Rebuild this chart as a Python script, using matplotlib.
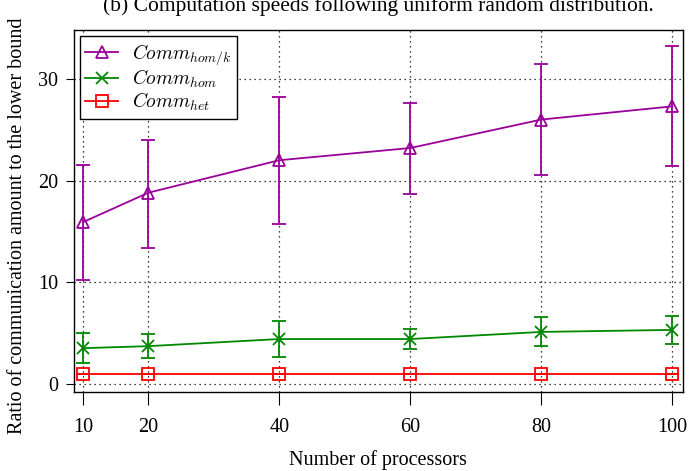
import numpy as np
import matplotlib.pyplot as plt

plt.rcParams.update({
    'font.family': ['Liberation Serif', 'DejaVu Serif'],
    'mathtext.fontset': 'cm',
    'font.size': 14.5,
})

# ── Data ─────────────────────────────────────────────────────────────────────
procs = [10, 20, 40, 60, 80, 100]

homk_mean = [15.9, 18.8, 22.0, 23.2, 26.0, 27.3]
homk_lo   = [10.2, 13.4, 15.7, 18.7, 20.5, 21.4]
homk_hi   = [21.5, 24.0, 28.2, 27.6, 31.5, 33.2]

hom_mean = [3.5, 3.7, 4.4, 4.4, 5.1, 5.3]
hom_lo   = [2.0, 2.5, 2.6, 3.4, 3.7, 3.9]
hom_hi   = [5.0, 4.9, 6.2, 5.4, 6.6, 6.7]

het_mean = [1.0, 1.0, 1.0, 1.0, 1.0, 1.0]
het_lo   = [1.0, 1.0, 1.0, 1.0, 1.0, 1.0]
het_hi   = [1.0, 1.0, 1.0, 1.0, 1.0, 1.0]

x_ticks = [10, 20, 40, 60, 80, 100]
y_ticks = [0, 10, 20, 30]

SERIES = [
    (homk_mean, homk_lo, homk_hi, '#990099', '^', r'$Comm_{hom/k}$'),
    (hom_mean,  hom_lo,  hom_hi,  '#008800', 'x', r'$Comm_{hom}$'),
    (het_mean,  het_lo,  het_hi,  '#ff0000', 's', r'$Comm_{het}$'),
]

fig = plt.figure(figsize=(6.89, 4.71), dpi=100)
ax = fig.add_axes([0.107, 0.168, 0.884, 0.768])

handles = []
for mean, lo, hi, colour, mk, label in SERIES:
    mean = np.array(mean)
    yerr = [mean - np.array(lo), np.array(hi) - mean]
    cont = ax.errorbar(procs, mean, yerr=yerr, color=colour, marker=mk,
                       markersize=9, markerfacecolor='none', markeredgewidth=1.3,
                       linewidth=1.3, elinewidth=1.3, capsize=5, capthick=1.3,
                       label=label)
    handles.append(cont[0])   # line + marker only in the legend

ax.set_xlim(8.6, 101.6)
ax.set_ylim(-0.8, 34.8)
ax.set_xticks(x_ticks)
ax.set_yticks(y_ticks)
ax.grid(True, color='black', linestyle=(0, (1, 3)), linewidth=0.9)
ax.tick_params(axis='x', direction='out', length=9, pad=10, top=False)
ax.tick_params(axis='y', direction='out', length=6, pad=5, right=False)
for sp in ax.spines.values():
    sp.set_linewidth(1.0)

ax.set_xlabel('Number of processors', labelpad=9)
ax.set_ylabel('Ratio of communication amount to the lower bound')
ax.yaxis.set_label_coords(-0.076, 0.46)

leg = ax.legend(handles, [s[5] for s in SERIES], loc='upper left',
                fancybox=False, edgecolor='black', framealpha=1,
                fontsize=14, handlelength=1.7, handletextpad=0.7,
                borderaxespad=0.3, borderpad=0.3, labelspacing=0.05)
leg.get_frame().set_linewidth(1.0)

# title partly cut off at the top of the image, as in the source
fig.text(0.549, 0.988, '(b) Computation speeds following uniform random distribution.',
         ha='center', va='center', fontsize=15.5)

fig.savefig('out.png', dpi=100)
